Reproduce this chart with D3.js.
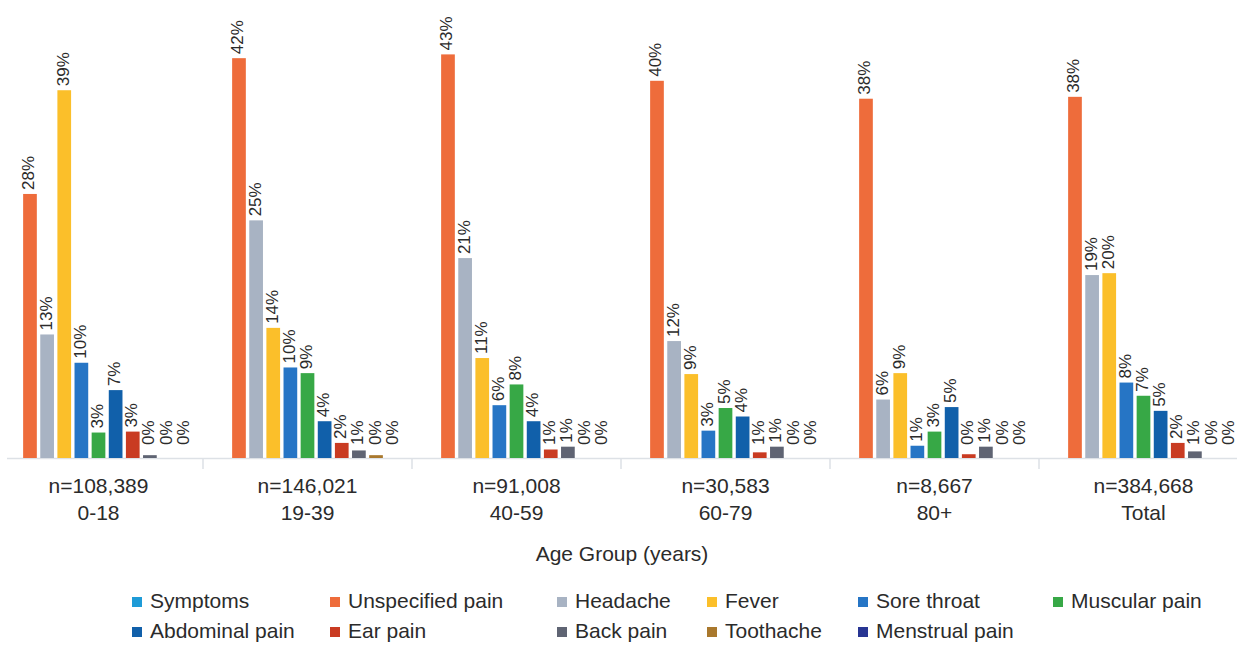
<!DOCTYPE html>
<html>
<head>
<meta charset="utf-8">
<script src="https://cdnjs.cloudflare.com/ajax/libs/d3/7.8.5/d3.min.js"></script>
<style>
  html, body { margin: 0; padding: 0; background: #fff; }
  svg { display: block; font-family: "Liberation Sans", Arial, Helvetica, sans-serif; }
</style>
</head>
<body>
<div id="chart"></div>
<script>
// age groups and their sample sizes
var groups = ['0-18', '19-39', '40-59', '60-79', '80+', 'Total'];
var groupN = ['n=108,389', 'n=146,021', 'n=91,008', 'n=30,583', 'n=8,667', 'n=384,668'];

var series = ['Symptoms', 'Unspecified pain', 'Headache', 'Fever', 'Sore throat', 'Muscular pain',
              'Abdominal pain', 'Ear pain', 'Back pain', 'Toothache', 'Menstrual pain'];

// percent of visits per group
var symptoms    = [null, null, null, null, null, null];
var unspecified = [28.0, 42.4, 42.8, 40.0, 38.1, 38.3];
var headache    = [13.1, 25.2, 21.2, 12.4, 6.2, 19.4];
var fever       = [39.0, 13.8, 10.6, 8.9, 9.0, 19.6];
var soreThroat  = [10.1, 9.6, 5.6, 2.9, 1.3, 8.0];
var muscular    = [2.7, 9.0, 7.8, 5.3, 2.8, 6.6];
var abdominal   = [7.2, 3.9, 3.9, 4.4, 5.4, 5.0];
var earPain     = [2.8, 1.6, 0.9, 0.6, 0.4, 1.6];
var backPain    = [0.3, 0.8, 1.2, 1.2, 1.2, 0.7];
var toothache   = [0, 0.3, 0, 0, 0, 0];
var menstrual   = [0, 0, 0, 0, 0, 0];

var seriesValues = [symptoms, unspecified, headache, fever, soreThroat, muscular,
                    abdominal, earPain, backPain, toothache, menstrual];

var palette = ['#1e9bd7', '#ee6c3b', '#a8b3c3', '#fbbf2a', '#2675c5', '#37a846',
               '#1160aa', '#c93b22', '#5f6473', '#a9782d', '#283593'];

var WIDTH = 1237,
    HEIGHT = 651,
    BASELINE = 458,
    TEXT_COLOR = '#2b2b2b';

var svg = d3.select('#chart')
  .append('svg')
  .attr('width', WIDTH)
  .attr('height', HEIGHT);

var x0 = d3.scaleBand()
  .domain(groups)
  .range([-6, 1248]);

var x1 = d3.scaleBand()
  .domain(series)
  .range([12, x0.bandwidth() - 12])
  .paddingInner(0.2);

var y = d3.scaleLinear()
  .domain([0, 45])
  .range([BASELINE, BASELINE - 45 * 9.43]);

var color = d3.scaleOrdinal().domain(series).range(palette);

// flatten into one row per bar
var rows = [];
groups.forEach(function (g, gi) {
  series.forEach(function (s, si) {
    var v = seriesValues[si][gi];
    if (v !== null) rows.push({ group: g, series: s, value: v });
  });
});

// axis line and group separators
svg.append('line')
  .attr('x1', 7).attr('x2', WIDTH)
  .attr('y1', BASELINE + 0.5).attr('y2', BASELINE + 0.5)
  .attr('stroke', '#dde1e6')
  .attr('stroke-width', 1.5);

svg.selectAll('line.sep')
  .data(groups.slice(1))
  .enter()
  .append('line')
  .attr('class', 'sep')
  .attr('x1', function (d) { return x0(d); })
  .attr('x2', function (d) { return x0(d); })
  .attr('y1', BASELINE)
  .attr('y2', BASELINE + 11)
  .attr('stroke', '#dde1e6')
  .attr('stroke-width', 1.5);

svg.selectAll('rect.bar')
  .data(rows)
  .enter()
  .append('rect')
  .attr('class', 'bar')
  .attr('x', function (d) { return x0(d.group) + x1(d.series); })
  .attr('width', x1.bandwidth())
  .attr('y', function (d) { return y(d.value); })
  .attr('height', function (d) { return BASELINE - y(d.value); })
  .style('fill', function (d) { return color(d.series); });

svg.selectAll('text.val')
  .data(rows)
  .enter()
  .append('text')
  .attr('class', 'val')
  .attr('transform', function (d) {
    var cx = x0(d.group) + x1(d.series) + x1.bandwidth() / 2 - 1,
        ly = Math.min(y(d.value) - 4, BASELINE - 13);
    return 'translate(' + cx + ',' + ly + ') rotate(-90)';
  })
  .attr('dominant-baseline', 'central')
  .attr('font-size', 17)
  .attr('fill', TEXT_COLOR)
  .text(function (d) { return Math.round(d.value) + '%'; });

// group labels
var labels = svg.selectAll('text.grp')
  .data(groups)
  .enter()
  .append('text')
  .attr('class', 'grp')
  .attr('text-anchor', 'middle')
  .attr('font-size', 21)
  .attr('fill', TEXT_COLOR);

labels.append('tspan')
  .attr('x', function (d) { return x0(d) + x0.bandwidth() / 2; })
  .attr('y', 493)
  .text(function (d, i) { return groupN[i]; });

labels.append('tspan')
  .attr('x', function (d) { return x0(d) + x0.bandwidth() / 2; })
  .attr('y', 520)
  .text(function (d) { return d; });

svg.append('text')
  .attr('x', 622)
  .attr('y', 561)
  .attr('text-anchor', 'middle')
  .attr('font-size', 21)
  .attr('fill', TEXT_COLOR)
  .text('Age Group (years)');

// legend, two rows
var legendCols = [132, 330, 557, 707, 858, 1053];
var legend = svg.selectAll('g.legend')
  .data(series)
  .enter()
  .append('g')
  .attr('class', 'legend')
  .attr('transform', function (d, i) {
    var row = Math.floor(i / 6),
        col = i % 6;
    return 'translate(' + legendCols[col] + ',' + (608 + row * 30) + ')';
  });

legend.append('rect')
  .attr('x', 0)
  .attr('y', -11)
  .attr('width', 10)
  .attr('height', 10)
  .style('fill', function (d) { return color(d); });

legend.append('text')
  .attr('x', 18)
  .attr('y', 0)
  .attr('font-size', 21)
  .attr('fill', TEXT_COLOR)
  .text(function (d) { return d; });
</script>
</body>
</html>
